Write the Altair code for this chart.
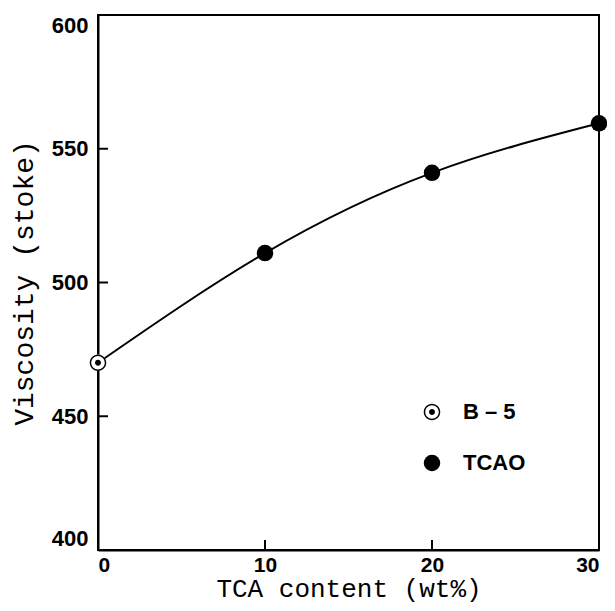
import altair as alt
import pandas as pd

# ---- data ----
tca = [0, 10, 20, 30]
visc = [470, 511, 541, 559.5]
series = ["B – 5", "TCAO", "TCAO", "TCAO"]
y_labels = [400, 450, 500, 550, 600]
x_labels = [0, 10, 20, 30]
inner_y_ticks = [450, 500, 550]
inner_x_ticks = [10, 20]

# one shared table: measured points plus the inward tick positions
rows = [{"kind": "pt", "tca": t, "visc": v, "series": s} for t, v, s in zip(tca, visc, series)]
rows += [{"kind": "yt", "tca": x_labels[0], "visc": v, "series": "ytick"} for v in inner_y_ticks]
rows += [{"kind": "xt", "tca": t, "visc": y_labels[0], "series": "xtick"} for t in inner_x_ticks]
df = pd.DataFrame(rows)

W, H = 501, 535

xs = alt.Scale(domain=[0, 30], nice=False, zero=False)
ys = alt.Scale(domain=[400, 600], nice=False, zero=False)

xax = alt.Axis(values=x_labels, format="d", ticks=False, grid=False,
               domainColor="black", domainWidth=2,
               labelFont="Liberation Sans", labelFontWeight="bold", labelFontSize=21,
               labelColor="black", labelPadding=4,
               title="TCA content (wt%)", titleFont="Liberation Mono",
               titleFontWeight="normal", titleFontSize=26, titleColor="black",
               titleBaseline="alphabetic", titleY=46)
yax = alt.Axis(values=y_labels, format="d", ticks=False, grid=False,
               domainColor="black", domainWidth=2,
               labelFont="Liberation Sans", labelFontWeight="bold", labelFontSize=22,
               labelColor="black", labelPadding=10, labelFlush=True,
               title="Viscosity (stoke)", titleFont="Liberation Mono",
               titleFontWeight="normal", titleFontSize=28, titleColor="black",
               titlePadding=13)

ring = ("M-1,0A1,1,0,1,1,1,0A1,1,0,1,1,-1,0Z "
        "M-0.82,0A0.82,0.82,0,1,0,0.82,0A0.82,0.82,0,1,0,-0.82,0Z "
        "M-0.36,0A0.36,0.36,0,1,1,0.36,0A0.36,0.36,0,1,1,-0.36,0Z")
# inward tick glyphs: unit paths scaled by sqrt(size)/2 (about 8.25 px here)
h_tick = "M0,-0.12L1.21,-0.12L1.21,0.12L0,0.12Z"
v_tick = "M-0.12,0L0.12,0L0.12,-1.21L-0.12,-1.21Z"

base = alt.Chart(df)
pts_base = base.transform_filter(alt.datum.kind == "pt")

line = pts_base.mark_line(color="black", strokeWidth=2, interpolate="natural").encode(
    x=alt.X("tca:Q", scale=xs, axis=xax), y=alt.Y("visc:Q", scale=ys, axis=yax))

backing = pts_base.transform_filter(alt.datum.series == series[0]).mark_circle(
    color="white", opacity=1, size=270).encode(
    x=alt.X("tca:Q", scale=xs), y=alt.Y("visc:Q", scale=ys))

pts = base.mark_point(filled=True, color="black", opacity=1, size=272, strokeWidth=0).encode(
    x=alt.X("tca:Q", scale=xs), y=alt.Y("visc:Q", scale=ys),
    shape=alt.Shape("series:N",
                    scale=alt.Scale(domain=["B – 5", "TCAO", "ytick", "xtick"],
                                    range=[ring, "circle", h_tick, v_tick]),
                    legend=alt.Legend(orient="none", legendX=323, legendY=386, title=None,
                                      values=["B – 5", "TCAO"],
                                      direction="vertical", padding=0,
                                      labelFont="Liberation Sans", labelFontWeight="bold",
                                      labelFontSize=22, labelColor="black",
                                      labelOffset=20, rowPadding=29,
                                      symbolSize=272, symbolStrokeWidth=0,
                                      symbolFillColor="black")))

chart = alt.layer(line, backing, pts).properties(
    width=W, height=H,
    autosize=alt.AutoSizeParams(type="none"),
    padding={"left": 90, "top": 7, "right": 8, "bottom": 53},
    background="white",
).configure_view(stroke="black", strokeWidth=2)

chart.save("out.html", embed_options={"renderer": "svg", "actions": False})
